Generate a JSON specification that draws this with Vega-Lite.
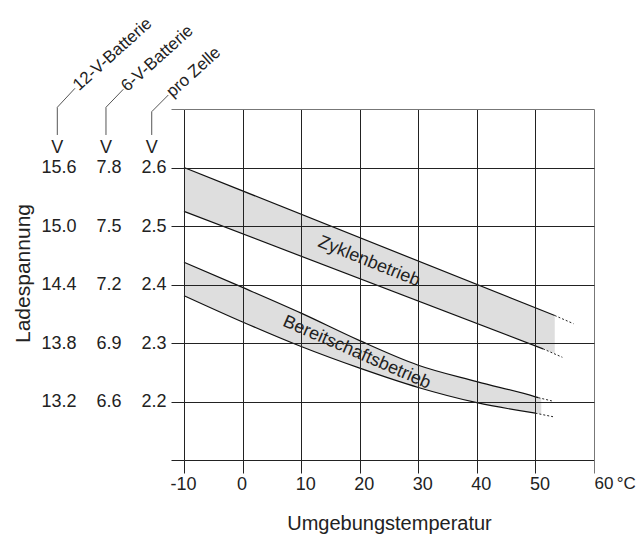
{
  "$schema": "https://vega.github.io/schema/vega-lite/v6.json",
  "width": 410,
  "height": 351,
  "autosize": {"type": "none"},
  "padding": {"left": 184, "top": 109, "right": 42, "bottom": 80},
  "background": "white",
  "config": {"font": "Liberation Sans", "view": {"stroke": null}},
  "datasets": {
    "bands": [
      {"band": "Zyklenbetrieb", "t": -10, "v": 2.525, "v2": 2.6},
      {"band": "Zyklenbetrieb", "t": 53.3, "v": 2.2826, "v2": 2.347},
      {"band": "Bereitschaftsbetrieb", "t": -10, "v": 2.381, "v2": 2.438},
      {"band": "Bereitschaftsbetrieb", "t": 0, "v": 2.336, "v2": 2.395},
      {"band": "Bereitschaftsbetrieb", "t": 10, "v": 2.294, "v2": 2.351},
      {"band": "Bereitschaftsbetrieb", "t": 20, "v": 2.257, "v2": 2.304},
      {"band": "Bereitschaftsbetrieb", "t": 30, "v": 2.224, "v2": 2.262},
      {"band": "Bereitschaftsbetrieb", "t": 40, "v": 2.198, "v2": 2.234},
      {"band": "Bereitschaftsbetrieb", "t": 50, "v": 2.18, "v2": 2.208},
      {"band": "Bereitschaftsbetrieb", "t": 51, "v": 2.178, "v2": 2.206}
    ],
    "lines": [
      {"line": "Zyklen oben", "t": -10, "v": 2.6},
      {"line": "Zyklen oben", "t": 53.3, "v": 2.347},
      {"line": "Zyklen unten", "t": -10, "v": 2.525},
      {"line": "Zyklen unten", "t": 51.3, "v": 2.29},
      {"line": "Bereitschaft oben", "t": -10, "v": 2.438},
      {"line": "Bereitschaft oben", "t": 0, "v": 2.395},
      {"line": "Bereitschaft oben", "t": 10, "v": 2.351},
      {"line": "Bereitschaft oben", "t": 20, "v": 2.304},
      {"line": "Bereitschaft oben", "t": 30, "v": 2.262},
      {"line": "Bereitschaft oben", "t": 40, "v": 2.234},
      {"line": "Bereitschaft oben", "t": 50, "v": 2.208},
      {"line": "Bereitschaft oben", "t": 50.5, "v": 2.2065},
      {"line": "Bereitschaft unten", "t": -10, "v": 2.381},
      {"line": "Bereitschaft unten", "t": 0, "v": 2.336},
      {"line": "Bereitschaft unten", "t": 10, "v": 2.294},
      {"line": "Bereitschaft unten", "t": 20, "v": 2.257},
      {"line": "Bereitschaft unten", "t": 30, "v": 2.224},
      {"line": "Bereitschaft unten", "t": 40, "v": 2.198},
      {"line": "Bereitschaft unten", "t": 50, "v": 2.18}
    ],
    "ext": [
      {"line": "Zyklen oben", "t": 53.3, "v": 2.347},
      {"line": "Zyklen oben", "t": 56.5, "v": 2.333},
      {"line": "Zyklen unten", "t": 51.3, "v": 2.29},
      {"line": "Zyklen unten", "t": 54.6, "v": 2.2756},
      {"line": "Bereitschaft oben", "t": 50.5, "v": 2.2065},
      {"line": "Bereitschaft oben", "t": 52.8, "v": 2.201},
      {"line": "Bereitschaft unten", "t": 50, "v": 2.18},
      {"line": "Bereitschaft unten", "t": 53, "v": 2.174}
    ],
    "connectors": [
      {"id": "12V", "i": 1, "t": -31.63, "v": 2.6556},
      {"id": "12V", "i": 2, "t": -31.63, "v": 2.7029},
      {"id": "12V", "i": 3, "t": -28.61, "v": 2.7354},
      {"id": "6V", "i": 1, "t": -23.32, "v": 2.6556},
      {"id": "6V", "i": 2, "t": -23.32, "v": 2.7029},
      {"id": "6V", "i": 3, "t": -20.36, "v": 2.7337},
      {"id": "Zelle", "i": 1, "t": -15.51, "v": 2.6556},
      {"id": "Zelle", "i": 2, "t": -15.51, "v": 2.6954},
      {"id": "Zelle", "i": 3, "t": -12.68, "v": 2.7239}
    ],
    "units": [
      {"unit": "V", "t": -31.63, "v": 2.6333},
      {"unit": "V", "t": -23.32, "v": 2.6333},
      {"unit": "V", "t": -15.51, "v": 2.6333}
    ],
    "heads": [
      {"head": "12-V-Batterie", "t": -28.5, "v": 2.7365},
      {"head": "6-V-Batterie", "t": -20.25, "v": 2.735},
      {"head": "pro Zelle", "t": -12.55, "v": 2.725}
    ]
  },
  "layer": [
    {
      "data": {"name": "bands"},
      "mark": {"type": "area", "color": "#dedede", "interpolate": "monotone"},
      "encoding": {
        "x": {
          "field": "t", "type": "quantitative",
          "scale": {"domain": [-10, 60], "nice": false, "zero": false},
          "axis": {
            "title": "Umgebungstemperatur",
            "values": [-10, 0, 10, 20, 30, 40, 50, 60],
            "labelExpr": "datum.value == 60 ? '60\u2009°C' : '' + datum.value",
            "labelFontSize": {"condition": {"test": "datum.value == 60", "value": 17}, "value": 18},
            "labelColor": "#222",
            "labelPadding": 2,
            "labelAlign": {"condition": {"test": "datum.value == 60", "value": "left"}, "value": "center"},
            "labelOffset": {"condition": [{"test": "datum.value <= 0", "value": -1}, {"test": "datum.value == 60", "value": 0}], "value": 4},
            "labelFlush": false,
            "labelOverlap": false,
            "tickSize": 13,
            "tickColor": {"condition": {"test": "datum.value == 60", "value": "#777"}, "value": "#222"},
            "domain": false,
            "grid": true,
            "gridColor": {"condition": {"test": "datum.value == 60", "value": "#777"}, "value": "#222"},
            "gridOpacity": 1,
            "titleFontSize": 20,
            "titleFontWeight": "normal",
            "titleColor": "#222",
            "titlePadding": 20,
            "zindex": 1
          }
        },
        "y": {
          "field": "v", "type": "quantitative",
          "scale": {"domain": [2.1, 2.7], "nice": false, "zero": false},
          "axis": {
            "title": "Ladespannung",
            "values": [2.1, 2.2, 2.3, 2.4, 2.5, 2.6, 2.7],
            "labelExpr": "(datum.value < 2.15 || datum.value > 2.65) ? '' : format(datum.value * 6, '.1f') + '\u00a0\u00a0\u00a0\u00a0' + format(datum.value * 3, '.1f') + '\u00a0\u00a0\u00a0\u00a0' + format(datum.value, '.1f')",
            "labelFontSize": 18,
            "labelColor": "#222",
            "labelPadding": 5,
            "labelOverlap": false,
            "labelFlush": false,
            "labelLimit": 300,
            "tickSize": 13,
            "tickColor": {"condition": {"test": "datum.value > 2.65", "value": "#777"}, "value": "#222"},
            "domain": false,
            "grid": true,
            "gridColor": {"condition": {"test": "datum.value > 2.65", "value": "#777"}, "value": "#222"},
            "gridOpacity": 1,
            "titleFontSize": 21,
            "titleFontWeight": "normal",
            "titleColor": "#222",
            "titleAngle": -90,
            "titleBaseline": "middle",
            "titleAlign": "center",
            "titleX": -161,
            "titleY": 164,
            "zindex": 1
          }
        },
        "y2": {"field": "v2"},
        "detail": {"field": "band", "type": "nominal"}
      }
    },
    {
      "data": {"name": "lines"},
      "mark": {"type": "line", "color": "#111", "strokeWidth": 1.2, "interpolate": "monotone"},
      "encoding": {
        "x": {"field": "t", "type": "quantitative"},
        "y": {"field": "v", "type": "quantitative"},
        "detail": {"field": "line", "type": "nominal"}
      }
    },
    {
      "data": {"name": "ext"},
      "mark": {"type": "line", "color": "#222", "strokeWidth": 1, "strokeDash": [2, 2]},
      "encoding": {
        "x": {"field": "t", "type": "quantitative"},
        "y": {"field": "v", "type": "quantitative"},
        "detail": {"field": "line", "type": "nominal"}
      }
    },
    {
      "data": {"values": [{"label": "Zyklenbetrieb", "t": 21.6, "v": 2.439}]},
      "mark": {"type": "text", "angle": 22, "fontSize": 18, "color": "#222", "align": "center", "baseline": "middle"},
      "encoding": {
        "x": {"field": "t", "type": "quantitative"},
        "y": {"field": "v", "type": "quantitative"},
        "text": {"field": "label"}
      }
    },
    {
      "data": {"values": [{"label": "Bereitschaftsbetrieb", "t": 19.5, "v": 2.2835}]},
      "mark": {"type": "text", "angle": 23.5, "fontSize": 18, "color": "#222", "align": "center", "baseline": "middle"},
      "encoding": {
        "x": {"field": "t", "type": "quantitative"},
        "y": {"field": "v", "type": "quantitative"},
        "text": {"field": "label"}
      }
    },
    {
      "data": {"name": "connectors"},
      "mark": {"type": "line", "color": "#555", "strokeWidth": 1},
      "encoding": {
        "x": {"field": "t", "type": "quantitative"},
        "y": {"field": "v", "type": "quantitative"},
        "detail": {"field": "id", "type": "nominal"},
        "order": {"field": "i", "type": "quantitative"}
      }
    },
    {
      "data": {"name": "units"},
      "mark": {"type": "text", "fontSize": 18, "color": "#222", "align": "center", "baseline": "middle"},
      "encoding": {
        "x": {"field": "t", "type": "quantitative"},
        "y": {"field": "v", "type": "quantitative"},
        "text": {"field": "unit"}
      }
    },
    {
      "data": {"name": "heads"},
      "mark": {"type": "text", "fontSize": 17, "color": "#222", "align": "left", "baseline": "middle", "angle": 318},
      "encoding": {
        "x": {"field": "t", "type": "quantitative"},
        "y": {"field": "v", "type": "quantitative"},
        "text": {"field": "head"}
      }
    }
  ]
}
